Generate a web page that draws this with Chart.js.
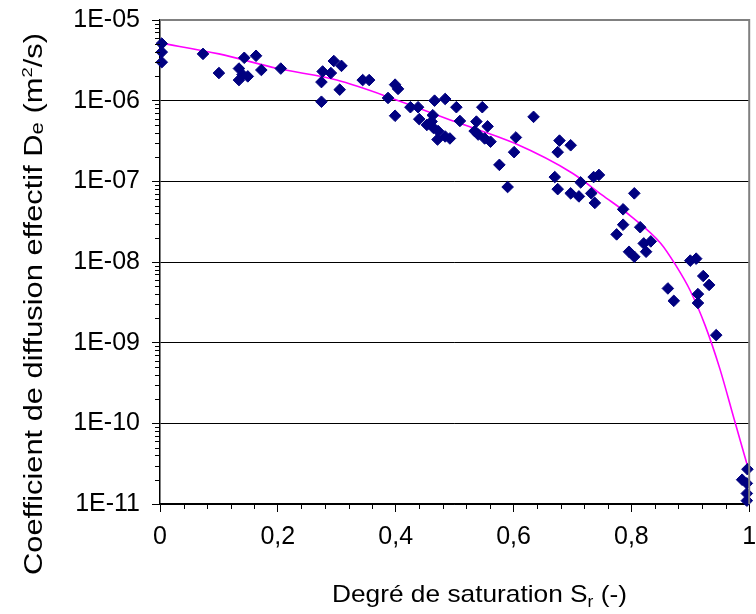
<!DOCTYPE html>
<html>
<head>
<meta charset="utf-8">
<script src="https://cdn.jsdelivr.net/npm/chart.js@4.4.1/dist/chart.umd.min.js"></script>
<style>
html,body{margin:0;padding:0;background:#fff;}
#wrap{width:756px;height:614px;}
</style>
</head>
<body>
<div id="wrap"><canvas id="c" width="756" height="614"></canvas></div>
<script>
// Measured points: degree of saturation Sr (-) and effective diffusion coefficient De (m2/s)
const measuredSr = [0.003,0.003,0.003,0.073,0.100,0.134,0.134,0.143,0.140,0.149,0.163,0.172,0.205,0.276,0.274,0.274,0.290,0.295,0.308,0.305,0.344,0.355,0.387,0.404,0.399,0.399,0.425,0.438,0.440,0.466,0.484,0.503,0.547,0.634,0.463,0.461,0.453,0.464,0.472,0.471,0.484,0.492,0.509,0.537,0.534,0.540,0.556,0.551,0.561,0.604,0.601,0.576,0.590,0.678,0.675,0.697,0.670,0.675,0.697,0.711,0.714,0.732,0.738,0.736,0.745,0.805,0.786,0.786,0.775,0.815,0.821,0.833,0.825,0.796,0.805,0.900,0.910,0.922,0.932,0.862,0.872,0.913,0.913,0.944,0.997,0.988,0.996,0.996,0.996];
const measuredDe = [5.1e-6,4.0e-6,3.0e-6,3.8e-6,2.2e-6,2.5e-6,1.8e-6,3.4e-6,2.1e-6,2.0e-6,3.6e-6,2.4e-6,2.5e-6,2.3e-6,1.7e-6,0.97e-6,2.2e-6,3.1e-6,2.7e-6,1.37e-6,1.8e-6,1.8e-6,1.08e-6,1.4e-6,1.58e-6,6.5e-7,8.3e-7,8.3e-7,5.9e-7,1.0e-6,1.05e-6,8.3e-7,8.3e-7,6.3e-7,6.6e-7,5.5e-7,5.0e-7,4.6e-7,4.2e-7,3.3e-7,3.6e-7,3.4e-7,5.6e-7,5.5e-7,4.2e-7,3.8e-7,4.8e-7,3.4e-7,3.1e-7,3.5e-7,2.3e-7,1.6e-7,8.5e-8,3.2e-7,2.3e-7,2.8e-7,1.13e-7,8.0e-8,7.1e-8,6.5e-8,9.7e-8,7.1e-8,5.4e-8,1.13e-7,1.2e-7,7.1e-8,4.5e-8,2.9e-8,2.2e-8,2.7e-8,1.7e-8,1.8e-8,1.34e-8,1.34e-8,1.16e-8,1.04e-8,1.1e-8,6.7e-9,5.2e-9,4.7e-9,3.3e-9,4.0e-9,3.1e-9,1.24e-9,2.7e-11,2.0e-11,1.8e-11,1.35e-11,1.1e-11];
// Fitted curve
const curveSr = [0,0.1,0.2,0.3,0.4,0.5,0.6,0.7,0.75,0.8,0.85,0.875,0.9,0.925,0.95,0.975,1.0];
const curveDe = [5.2e-6,3.8e-6,2.5e-6,1.8e-6,1.03e-6,5.5e-7,3.0e-7,1.26e-7,6.8e-8,3.66e-8,1.7e-8,9.2e-9,4.4e-9,1.65e-9,4.8e-10,1.09e-10,2.5e-11];
// Axis ticks
const yTickExponents = [-11,-10,-9,-8,-7,-6,-5];
const xTickStep = 0.2;
const xMinorStep = 0.04;
const xTitle = ['Degré de saturation S','r',' (-)'];
const yTitle = ['Coefficient de diffusion effectif D','e',' (m','2','/s)'];

const FONT = '"Liberation Sans", Arial, sans-serif';

const pts = measuredSr.map((x,i)=>({x:x,y:measuredDe[i]}));
const cpts = curveSr.map((x,i)=>({x:x,y:curveDe[i]}));

function drawRich(ctx, parts, fonts, offs, cx, by, targetW) {
  const ws = parts.map((t,i)=>{ctx.font = fonts[i]; return ctx.measureText(t).width;});
  const tot = ws.reduce((a,b)=>a+b,0);
  const k = targetW / tot;
  ctx.save();
  ctx.translate(cx, by);
  ctx.scale(k, 1);
  let x = -tot/2;
  parts.forEach((t,i)=>{ctx.font = fonts[i]; ctx.fillText(t, x, offs[i]); x += ws[i];});
  ctx.restore();
}

const decor = {
  id:'decor',
  afterDraw(chart){
    const ctx = chart.ctx, ca = chart.chartArea;
    const xs = chart.scales.x, ys = chart.scales.y;
    ctx.save();
    // minor ticks
    ctx.strokeStyle = '#000'; ctx.lineWidth = 1;
    ctx.beginPath();
    for (let e = yTickExponents[0]; e < yTickExponents[yTickExponents.length-1]; e++) {
      for (let m = 2; m <= 9; m++) {
        const py = Math.round(ys.getPixelForValue(m*Math.pow(10,e))) + 0.5;
        ctx.moveTo(ca.left-5, py); ctx.lineTo(ca.left, py);
      }
    }
    for (let k = 1; k < Math.round(1/xMinorStep); k++) {
      if (k % 5 === 0) continue;
      const px = Math.round(xs.getPixelForValue(k*xMinorStep)) + 0.5;
      ctx.moveTo(px, ca.bottom); ctx.lineTo(px, ca.bottom+5);
    }
    ctx.stroke();
    // top/right frame
    ctx.strokeStyle = '#808080'; ctx.lineWidth = 2;
    ctx.beginPath();
    ctx.moveTo(ca.left, ca.top); ctx.lineTo(ca.right, ca.top); ctx.lineTo(ca.right, ca.bottom);
    ctx.stroke();
    // titles
    ctx.fillStyle = '#000';
    ctx.textBaseline = 'alphabetic';
    ctx.textAlign = 'left';
    const big = '24px ' + FONT;
    drawRich(ctx, xTitle, [big, '16px '+FONT, big], [0, 5, 0], 479.5, 602, 295);
    ctx.save();
    ctx.translate(41.5, 304);
    ctx.rotate(-Math.PI/2);
    drawRich(ctx, yTitle, ['25px '+FONT, '18px '+FONT, '25px '+FONT, '15px '+FONT, '25px '+FONT], [0, 1, 0, -10, 0], 0, 0, 542);
    ctx.restore();
    ctx.restore();
  }
};

new Chart(document.getElementById('c'), {
  type:'scatter',
  data:{datasets:[
    {label:'mesures', data:pts, pointStyle:'rectRot', pointRadius:5.8, pointHoverRadius:5.8,
     backgroundColor:'#000080', borderColor:'#000080', borderWidth:1, clip:false, order:1},
    {label:'courbe', type:'line', data:cpts, showLine:true, pointRadius:0, borderColor:'#ff00ff',
     borderWidth:1.6, cubicInterpolationMode:'monotone', fill:false, order:2}
  ]},
  options:{
    responsive:false, animation:false, devicePixelRatio:1,
    layout:{padding:{top:20, right:3, left:0, bottom:0}},
    plugins:{legend:{display:false}, tooltip:{enabled:false}},
    scales:{
      x:{type:'linear', min:0, max:1,
        afterFit:(s)=>{s.height = 110; s.paddingLeft = 0; s.paddingRight = 0;},
        ticks:{stepSize:xTickStep, color:'#000', padding:10, font:{family:FONT, size:25},
          callback:(v)=>String(Math.round(v*10)/10).replace('.',',')},
        grid:{drawOnChartArea:false, color:'#000', tickColor:'#000', tickLength:8, lineWidth:1},
        border:{display:true, color:'#000', width:1.5}
      },
      y:{type:'logarithmic', min:1e-11, max:1e-5,
        afterFit:(s)=>{s.width = 160; s.paddingTop = 0; s.paddingBottom = 0;},
        afterBuildTicks:(s)=>{s.ticks = yTickExponents.map(e=>({value:Math.pow(10,e)}));},
        ticks:{color:'#000', padding:12, font:{family:FONT, size:25}, autoSkip:false,
          callback:(v)=>'1E-' + String(Math.round(-Math.log10(v))).padStart(2,'0')},
        grid:{color:'#000', tickColor:'#000', tickLength:8, lineWidth:1},
        border:{display:true, color:'#000', width:1.5}
      }
    }
  },
  plugins:[decor]
});
</script>
</body>
</html>
